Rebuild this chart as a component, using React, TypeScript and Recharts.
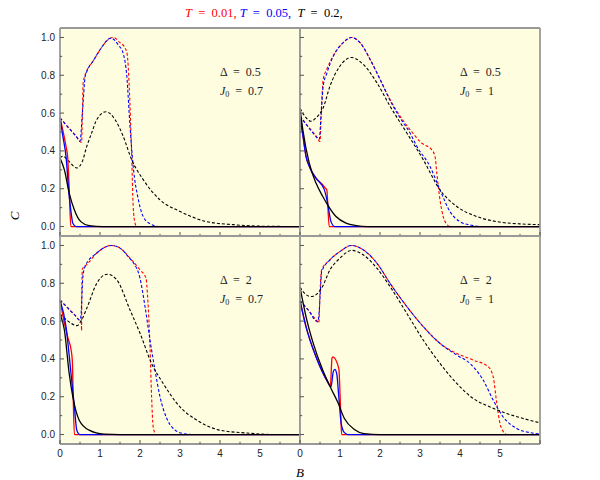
import { CartesianGrid, Line, LineChart, XAxis, YAxis } from "recharts";

type Pt = [number, number];

// tick values
const xTicks = [0, 0.5, 1, 1.5, 2, 2.5, 3, 3.5, 4, 4.5, 5, 5.5, 6];
const xLabels = [0, 1, 2, 3, 4, 5];
const yTicks = [0, 0.1, 0.2, 0.3, 0.4, 0.5, 0.6, 0.7, 0.8, 0.9, 1.0];
const yLabels = [0, 0.2, 0.4, 0.6, 0.8, 1.0];

// top left: Δ = 0.5, J0 = 0.7
const tlRedDash: Pt[] = [[0, 0.575], [0.2, 0.527], [0.4, 0.479], [0.54, 0.445], [0.56, 0.6], [0.58, 0.76], [0.67, 0.823], [0.83, 0.876], [1.0, 0.934], [1.17, 0.982], [1.33, 1.0], [1.5, 0.973], [1.62, 0.947], [1.68, 0.911], [1.73, 0.743], [1.79, 0.389], [1.83, 0.106], [1.875, 0.018], [1.92, 0], [6, 0]];
const tlBlueDash: Pt[] = [[0, 0.575], [0.2, 0.525], [0.4, 0.478], [0.5, 0.451], [0.56, 0.6], [0.63, 0.796], [0.67, 0.82], [0.83, 0.876], [1.0, 0.935], [1.27, 0.996], [1.46, 0.96], [1.58, 0.915], [1.67, 0.796], [1.75, 0.531], [1.83, 0.318], [1.96, 0.141], [2.08, 0.053], [2.25, 0.015], [2.5, 0], [6, 0]];
const tlBlackDash: Pt[] = [[0, 0.363], [0.08, 0.372], [0.2, 0.35], [0.42, 0.31], [0.55, 0.34], [0.67, 0.424], [0.8, 0.5], [0.92, 0.566], [1.15, 0.607], [1.375, 0.566], [1.58, 0.477], [1.79, 0.354], [2.08, 0.248], [2.5, 0.141], [3.0, 0.08], [3.67, 0.026], [4.33, 0.01], [5, 0.002], [6, 0]];
const tlRedSolid: Pt[] = [[0, 0.575], [0.067, 0.513], [0.15, 0.424], [0.19, 0.371], [0.23, 0.2], [0.27, 0], [6, 0]];
const tlBlueSolid: Pt[] = [[0, 0.575], [0.07, 0.48], [0.15, 0.371], [0.23, 0.16], [0.28, 0.07], [0.32, 0.017], [0.4, 0], [6, 0]];
const tlBlackSolid: Pt[] = [[0, 0.363], [0.11, 0.3], [0.23, 0.177], [0.36, 0.088], [0.52, 0.026], [0.73, 0.005], [1.07, 0], [6, 0]];

// top right: Δ = 0.5, J0 = 1
const trRedDash: Pt[] = [[0, 0.584], [0.2, 0.53], [0.4, 0.48], [0.5, 0.45], [0.53, 0.6], [0.58, 0.779], [0.67, 0.832], [0.83, 0.902], [1.08, 0.973], [1.29, 1.0], [1.5, 0.973], [1.75, 0.885], [2.0, 0.779], [2.25, 0.672], [2.5, 0.584], [2.75, 0.513], [3.04, 0.442], [3.29, 0.407], [3.375, 0.371], [3.42, 0.283], [3.5, 0.141], [3.58, 0.053], [3.67, 0.012], [3.75, 0], [6, 0]];
const trBlueDash: Pt[] = [[0, 0.584], [0.2, 0.528], [0.4, 0.476], [0.48, 0.46], [0.53, 0.6], [0.58, 0.743], [0.67, 0.81], [0.83, 0.9], [1.08, 0.973], [1.29, 1.0], [1.5, 0.973], [1.75, 0.885], [2.0, 0.779], [2.25, 0.668], [2.5, 0.575], [2.75, 0.495], [2.92, 0.424], [3.25, 0.318], [3.5, 0.194], [3.75, 0.079], [4.0, 0.026], [4.33, 0.005], [4.58, 0], [6, 0]];
const trBlackDash: Pt[] = [[0, 0.625], [0.1, 0.59], [0.275, 0.557], [0.4, 0.575], [0.58, 0.628], [0.75, 0.743], [1.0, 0.849], [1.29, 0.894], [1.58, 0.858], [1.92, 0.761], [2.25, 0.637], [2.67, 0.495], [3.08, 0.354], [3.5, 0.194], [3.92, 0.106], [4.42, 0.053], [4.92, 0.026], [5.5, 0.014], [6, 0.01]];
const trRedSolid: Pt[] = [[0, 0.575], [0.067, 0.49], [0.15, 0.371], [0.25, 0.31], [0.4, 0.256], [0.55, 0.225], [0.625, 0.205], [0.67, 0.193], [0.73, 0], [6, 0]];
const trBlueSolid: Pt[] = [[0, 0.575], [0.067, 0.49], [0.15, 0.371], [0.25, 0.31], [0.4, 0.256], [0.61, 0.194], [0.69, 0.124], [0.775, 0.026], [0.87, 0], [6, 0]];
const trBlackSolid: Pt[] = [[0, 0.625], [0.07, 0.513], [0.23, 0.336], [0.4, 0.23], [0.57, 0.159], [0.69, 0.115], [0.9, 0.053], [1.15, 0.018], [1.4, 0.005], [1.7, 0], [6, 0]];

// bottom left: Δ = 2, J0 = 0.7
const blRedDash: Pt[] = [[0, 0.712], [0.2, 0.668], [0.4, 0.625], [0.48, 0.606], [0.53, 0.6], [0.54, 0.55], [0.545, 0.75], [0.56, 0.875], [0.67, 0.898], [0.92, 0.96], [1.29, 1.0], [1.5, 0.986], [1.75, 0.933], [2.0, 0.871], [2.15, 0.827], [2.19, 0.73], [2.25, 0.464], [2.29, 0.2], [2.33, 0.04], [2.4, 0], [6, 0]];
const blBlueDash: Pt[] = [[0, 0.712], [0.2, 0.668], [0.4, 0.625], [0.48, 0.606], [0.52, 0.62], [0.57, 0.83], [0.625, 0.889], [0.92, 0.96], [1.29, 1.0], [1.5, 0.986], [1.75, 0.93], [1.83, 0.91], [2.0, 0.827], [2.125, 0.677], [2.25, 0.5], [2.375, 0.341], [2.5, 0.2], [2.67, 0.085], [2.83, 0.032], [3.08, 0.005], [3.33, 0], [6, 0]];
const blBlackDash: Pt[] = [[0, 0.638], [0.2, 0.6], [0.42, 0.576], [0.55, 0.61], [0.67, 0.668], [0.92, 0.8], [1.18, 0.848], [1.42, 0.818], [1.75, 0.659], [2.0, 0.536], [2.29, 0.376], [2.58, 0.27], [3.0, 0.146], [3.42, 0.076], [4.0, 0.023], [4.67, 0.008], [5.33, 0], [6, 0]];
const blRedSolid: Pt[] = [[0, 0.712], [0.1, 0.6], [0.19, 0.518], [0.29, 0.43], [0.31, 0.38], [0.33, 0.2], [0.36, 0], [6, 0]];
const blBlueSolid: Pt[] = [[0, 0.712], [0.15, 0.571], [0.275, 0.323], [0.36, 0.146], [0.42, 0.023], [0.5, 0], [6, 0]];
const blBlackSolid: Pt[] = [[0, 0.638], [0.11, 0.553], [0.23, 0.323], [0.32, 0.2], [0.48, 0.076], [0.73, 0.023], [1.1, 0.002], [1.5, 0], [6, 0]];

// bottom right: Δ = 2, J0 = 1
const brRedDash: Pt[] = [[0, 0.708], [0.2, 0.66], [0.44, 0.597], [0.47, 0.59], [0.5, 0.75], [0.54, 0.871], [0.75, 0.924], [1.0, 0.968], [1.29, 1.0], [1.58, 0.977], [1.92, 0.907], [2.25, 0.8], [2.67, 0.677], [3.08, 0.571], [3.5, 0.482], [3.92, 0.429], [4.33, 0.394], [4.71, 0.358], [4.83, 0.305], [4.92, 0.164], [5.0, 0.058], [5.08, 0.016], [5.17, 0], [6, 0]];
const brBlueDash: Pt[] = [[0, 0.708], [0.2, 0.66], [0.44, 0.597], [0.48, 0.65], [0.52, 0.8], [0.54, 0.86], [0.75, 0.924], [1.0, 0.968], [1.29, 1.0], [1.58, 0.977], [1.92, 0.907], [2.25, 0.8], [2.67, 0.677], [3.08, 0.571], [3.5, 0.482], [3.92, 0.42], [4.25, 0.376], [4.58, 0.288], [4.83, 0.182], [5.08, 0.093], [5.42, 0.032], [5.75, 0.01], [6, 0.003]];
const brBlackDash: Pt[] = [[0, 0.78], [0.1, 0.75], [0.275, 0.73], [0.54, 0.774], [0.75, 0.871], [1.0, 0.933], [1.29, 0.974], [1.58, 0.951], [1.92, 0.88], [2.25, 0.783], [2.67, 0.641], [3.08, 0.5], [3.5, 0.376], [3.92, 0.27], [4.33, 0.191], [4.75, 0.146], [5.17, 0.111], [5.58, 0.085], [6, 0.062]];
const brRedSolid: Pt[] = [[0, 0.708], [0.15, 0.571], [0.4, 0.411], [0.69, 0.279], [0.76, 0.255], [0.8, 0.405], [0.82, 0.411], [0.97, 0.35], [1.02, 0.1], [1.04, 0], [6, 0]];
const brBlueSolid: Pt[] = [[0, 0.708], [0.15, 0.571], [0.4, 0.411], [0.69, 0.279], [0.775, 0.252], [0.83, 0.33], [0.87, 0.345], [0.92, 0.32], [0.97, 0.2], [1.03, 0.058], [1.11, 0.01], [1.2, 0], [6, 0]];
const brBlackSolid: Pt[] = [[0, 0.78], [0.15, 0.624], [0.32, 0.49], [0.57, 0.34], [0.775, 0.244], [0.94, 0.173], [1.11, 0.085], [1.36, 0.027], [1.6, 0.005], [2.0, 0], [6, 0]];

const RED = "#ff0000";
const BLUE = "#0000ff";
const BLACK = "#000000";
const FRAME = "#999999";
const TICK = "#555";
const BG = "#fffde0";

// plot box inside each chart svg
const PL = 45;
const PT = 5;
const PW = 240;
const PH = 208;

const rows = (pts: Pt[]) => pts.map(([b, c]) => ({ b, c }));

const isMajorX = (v: number) => Math.abs(v - Math.round(v)) < 1e-6;
const isMajorY = (v: number) => Math.round(v * 10) % 2 === 0;

function bottomTick(showLabels: boolean) {
  return (p: any) => {
    const v = p.payload.value;
    const len = isMajorX(v) ? 4 : 2.2;
    return (
      <g>
        <line x1={p.x} x2={p.x} y1={PT + PH} y2={PT + PH - len} stroke={TICK} strokeWidth={1} />
        {showLabels && xLabels.includes(v) && (
          <text x={p.x} y={PT + PH + 9.5} textAnchor="middle" dominantBaseline="central" fontSize={10} fontFamily="Liberation Sans" fill="#222">
            {v}
          </text>
        )}
      </g>
    );
  };
}

const topTick = (p: any) => {
  const len = isMajorX(p.payload.value) ? 4 : 2.2;
  return <line x1={p.x} x2={p.x} y1={PT} y2={PT + len} stroke={TICK} strokeWidth={1} />;
};

function leftTick(showLabels: boolean) {
  return (p: any) => {
    const v = p.payload.value;
    const len = isMajorY(v) ? 4 : 2.2;
    return (
      <g>
        <line x1={PL} x2={PL + len} y1={p.y} y2={p.y} stroke={TICK} strokeWidth={1} />
        {showLabels && yLabels.some((l) => Math.abs(l - v) < 1e-6) && (
          <text x={PL - 5} y={p.y} textAnchor="end" dominantBaseline="central" fontSize={10} fontFamily="Liberation Sans" fill="#222">
            {v.toFixed(1)}
          </text>
        )}
      </g>
    );
  };
}

const rightTick = (p: any) => {
  const len = isMajorY(p.payload.value) ? 4 : 2.2;
  return <line x1={PL + PW} x2={PL + PW - len} y1={p.y} y2={p.y} stroke={TICK} strokeWidth={1} />;
};

type PanelProps = {
  left: number;
  top: number;
  yLabelsOn: boolean;
  xLabelsOn: boolean;
  series: { data: Pt[]; color: string; dashed: boolean }[];
};

function Panel({ left, top, yLabelsOn, xLabelsOn, series }: PanelProps) {
  return (
    <div style={{ position: "absolute", left: left - PL, top: top - PT }}>
      <LineChart width={PL + PW + 5} height={PT + PH + 25} margin={{ top: 0, right: 0, bottom: 0, left: 0 }}>
        <CartesianGrid horizontal={false} vertical={false} fill={BG} stroke="none" xAxisId="bottom" yAxisId="left" />
        <XAxis xAxisId="bottom" dataKey="b" type="number" domain={[0, 6]} ticks={xTicks} interval={0} height={25}
          axisLine={{ stroke: FRAME, strokeWidth: 1.8 }} tickLine={false} tickSize={0} tick={bottomTick(xLabelsOn)} />
        <XAxis xAxisId="top" orientation="top" dataKey="b" type="number" domain={[0, 6]} ticks={xTicks} interval={0} height={5}
          axisLine={{ stroke: FRAME, strokeWidth: 1.8 }} tickLine={false} tickSize={0} tick={topTick} />
        <YAxis yAxisId="left" dataKey="c" type="number" domain={[-0.05, 1.05]} ticks={yTicks} interval={0} width={PL}
          axisLine={{ stroke: FRAME, strokeWidth: 1.8 }} tickLine={false} tickSize={0} tick={leftTick(yLabelsOn)} />
        <YAxis yAxisId="right" orientation="right" dataKey="c" type="number" domain={[-0.05, 1.05]} ticks={yTicks} interval={0} width={5}
          axisLine={{ stroke: FRAME, strokeWidth: 1.8 }} tickLine={false} tickSize={0} tick={rightTick} />
        {series.map((s, i) => (
          <Line
            key={i}
            xAxisId="bottom"
            yAxisId="left"
            data={rows(s.data)}
            dataKey="c"
            type="monotone"
            stroke={s.color}
            strokeWidth={s.dashed ? 1.1 : 1.3}
            strokeDasharray={s.dashed ? "3 2" : undefined}
            dot={false}
            activeDot={false}
            isAnimationActive={false}
          />
        ))}
      </LineChart>
    </div>
  );
}

const set = (rd: Pt[], bd: Pt[], kd: Pt[], rs: Pt[], bs: Pt[], ks: Pt[]) => [
  { data: rd, color: RED, dashed: true },
  { data: bd, color: BLUE, dashed: true },
  { data: kd, color: BLACK, dashed: true },
  { data: rs, color: RED, dashed: false },
  { data: bs, color: BLUE, dashed: false },
  { data: ks, color: BLACK, dashed: false },
];

function Note({ x, y, delta, j0 }: { x: number; y: number; delta: string; j0: string }) {
  return (
    <g fontFamily="Liberation Serif" fontSize={12} fill="#222">
      <text x={x} y={y} xmlSpace="preserve">{"Δ  =  " + delta}</text>
      <text x={x} y={y + 18.5} xmlSpace="preserve">
        <tspan fontStyle="italic">J</tspan>
        <tspan fontSize={8} dy={2}>0</tspan>
        <tspan dy={-2}>{"  =  " + j0}</tspan>
      </text>
    </g>
  );
}

export default function App() {
  return (
    <div style={{ position: "absolute", left: 0, top: 0, width: 600, height: 480, background: "#fff" }}>
      <Panel left={60} top={28} yLabelsOn xLabelsOn={false} series={set(tlRedDash, tlBlueDash, tlBlackDash, tlRedSolid, tlBlueSolid, tlBlackSolid)} />
      <Panel left={300} top={28} yLabelsOn={false} xLabelsOn={false} series={set(trRedDash, trBlueDash, trBlackDash, trRedSolid, trBlueSolid, trBlackSolid)} />
      <Panel left={60} top={236} yLabelsOn xLabelsOn series={set(blRedDash, blBlueDash, blBlackDash, blRedSolid, blBlueSolid, blBlackSolid)} />
      <Panel left={300} top={236} yLabelsOn={false} xLabelsOn series={set(brRedDash, brBlueDash, brBlackDash, brRedSolid, brBlueSolid, brBlackSolid)} />
      <svg width={600} height={480} style={{ position: "absolute", left: 0, top: 0, pointerEvents: "none" }}>
        <text x={185} y={17} fontFamily="Liberation Serif" fontSize={12.5} xmlSpace="preserve">
          <tspan fill={RED} fontStyle="italic">T</tspan>
          <tspan fill={RED}>{"  =  0.01, "}</tspan>
          <tspan fill={BLUE} fontStyle="italic">T</tspan>
          <tspan fill={BLUE}>{"  =  0.05,  "}</tspan>
          <tspan fill={BLACK} fontStyle="italic">T</tspan>
          <tspan fill={BLACK}>{"  =  0.2,"}</tspan>
        </text>
        <text x={14} y={216} transform="rotate(-90 14 216)" textAnchor="middle" dominantBaseline="central" fontFamily="Liberation Serif" fontStyle="italic" fontSize={13}>
          C
        </text>
        <text x={300} y={472} textAnchor="middle" dominantBaseline="central" fontFamily="Liberation Serif" fontStyle="italic" fontSize={13}>
          B
        </text>
        <Note x={220} y={76} delta="0.5" j0="0.7" />
        <Note x={460} y={76} delta="0.5" j0="1" />
        <Note x={220} y={284} delta="2" j0="0.7" />
        <Note x={460} y={284} delta="2" j0="1" />
      </svg>
    </div>
  );
}
